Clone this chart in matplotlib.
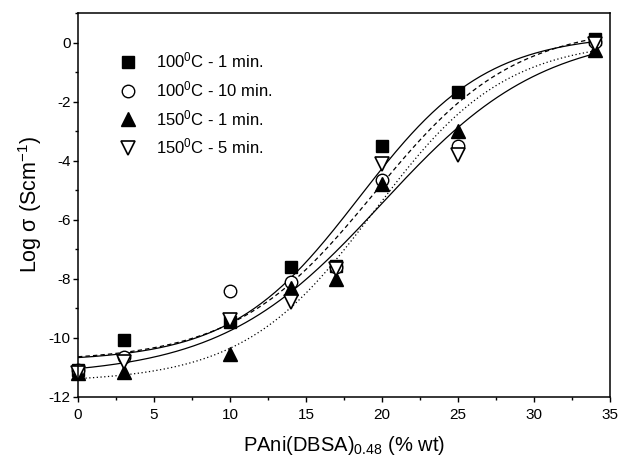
import numpy as np
import matplotlib
matplotlib.use('Agg')
import matplotlib.pyplot as plt
from matplotlib.ticker import MultipleLocator

plt.rcParams['font.family'] = ['Liberation Sans', 'DejaVu Sans']
plt.rcParams['mathtext.fontset'] = 'custom'
plt.rcParams['mathtext.rm'] = 'Liberation Sans'
plt.rcParams['mathtext.it'] = 'Liberation Sans'
plt.rcParams['mathtext.default'] = 'regular'
plt.rcParams['axes.unicode_minus'] = False

# composition (% wt)
x = [0, 3, 10, 14, 17, 20, 25, 34]

# log conductivity for each treatment
y_100_1 = [-11.1, -10.07, -9.45, -7.6, -7.55, -3.51, -1.67, 0.12]
y_100_10 = [-11.1, -10.63, -8.4, -8.1, -7.6, -4.65, -3.5, 0.02]
y_150_1 = [-11.2, -11.14, -10.55, -8.3, -8.0, -4.8, -3.0, -0.25]
y_150_5 = [-11.18, -10.8, -9.41, -8.77, -7.68, -4.1, -3.8, -0.05]

labels = ['100$^{0}$C - 1 min.', '100$^{0}$C - 10 min.',
          '150$^{0}$C - 1 min.', '150$^{0}$C - 5 min.']

# Boltzmann fit parameters: A1, A2, x0, dx
fit_100_1 = [-10.8, 0.3, 18.5, 4.2]
fit_100_10 = [-10.8, 0.6, 19.5, 4.6]
fit_150_1 = [-11.5, 0.1, 19.5, 4.3]
fit_150_5 = [-11.3, 0.4, 20.0, 5.3]


def boltzmann(xx, p):
    a1, a2, x0, dx = p
    return a2 + (a1 - a2) / (1 + np.exp((xx - x0) / dx))


fig = plt.figure(figsize=(6.21, 4.57), dpi=100)
ax = fig.add_axes([0.1256, 0.1313, 0.8564, 0.8403])

xs = np.linspace(0, 34, 300)
ax.plot(xs, boltzmann(xs, fit_100_1), '-', color='black', lw=0.9)
ax.plot(xs, boltzmann(xs, fit_100_10), '--', color='black', lw=0.9, dashes=(3.5, 2.5))
ax.plot(xs, boltzmann(xs, fit_150_1), ':', color='black', lw=0.9, dashes=(1, 2))
ax.plot(xs, boltzmann(xs, fit_150_5), '-', color='black', lw=0.9)

ax.plot(x, y_100_1, 's', color='black', ms=8, label=labels[0], clip_on=False)
ax.plot(x, y_100_10, 'o', mfc='white', mec='black', mew=1.0, ms=9,
        label=labels[1], clip_on=False)
ax.plot(x, y_150_1, '^', color='black', ms=10, label=labels[2], clip_on=False)
ax.plot(x, y_150_5, 'v', mfc='white', mec='black', mew=1.2, ms=10,
        label=labels[3], clip_on=False)

ax.set_xlim(0, 35)
ax.set_ylim(-12, 1)
ax.xaxis.set_major_locator(MultipleLocator(5))
ax.xaxis.set_minor_locator(MultipleLocator(2.5))
ax.yaxis.set_major_locator(MultipleLocator(2))
ax.yaxis.set_minor_locator(MultipleLocator(1))
ax.tick_params(which='both', direction='out', width=1.0, labelsize=11)
ax.tick_params(which='major', length=3.8)
ax.tick_params(which='minor', length=2.5)
ax.tick_params(axis='x', which='major', pad=4)
ax.tick_params(axis='y', which='major', pad=1.5)
for s in ax.spines.values():
    s.set_linewidth(1.1)

ax.set_xlabel('PAni(DBSA)$_{0.48}$ (% wt)', fontsize=14.5, labelpad=9)
ax.set_ylabel('Log σ (Scm$^{-1}$)', fontsize=15.5, labelpad=3)

ax.legend(loc='upper left', bbox_to_anchor=(0.05, 0.919), frameon=False,
          fontsize=12, handletextpad=0.7, labelspacing=0.53,
          borderaxespad=0)

fig.savefig('out.png', dpi=100)
